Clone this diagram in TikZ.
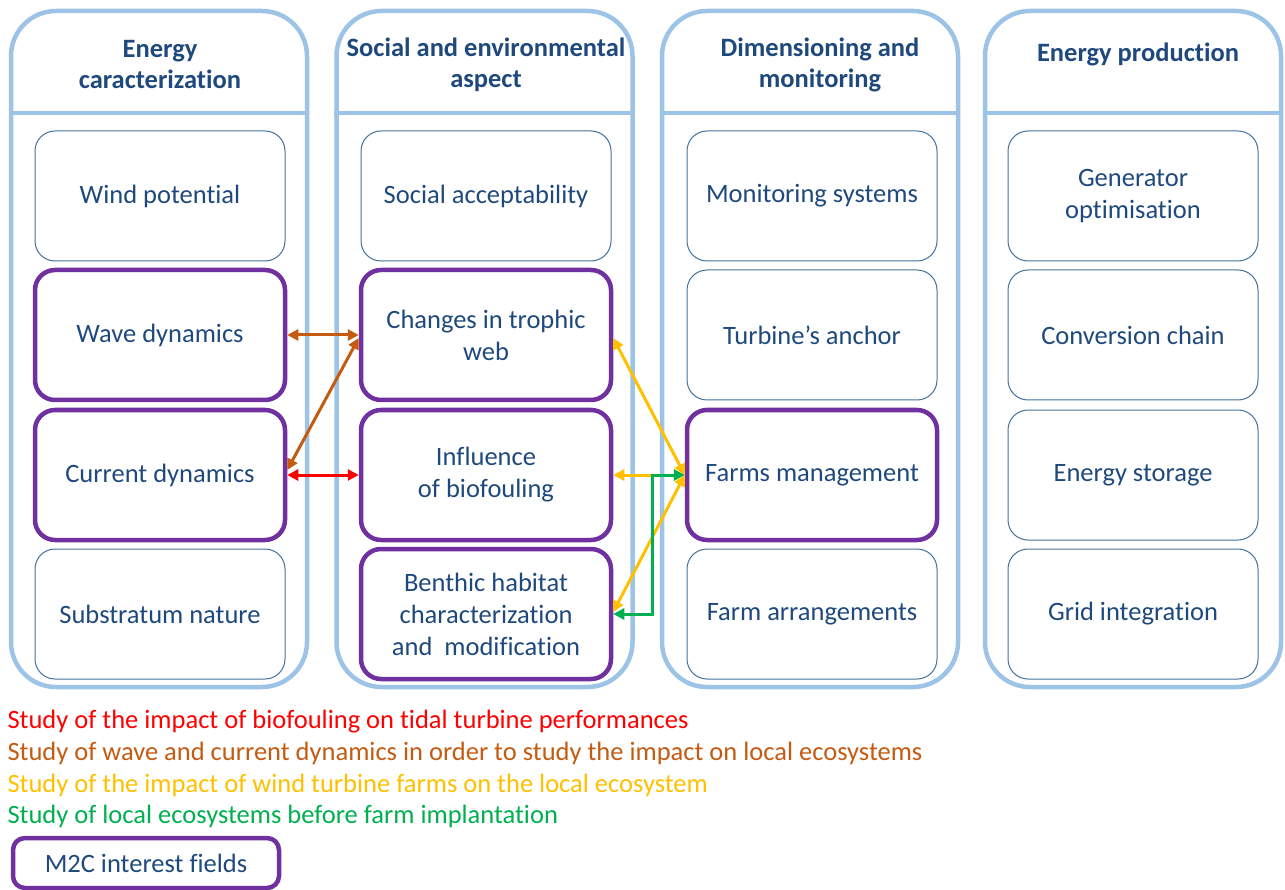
\documentclass[tikz,border=0pt]{standalone}
\usepackage{fontspec}
\setmainfont{Carlito}[Ligatures=NoCommon]
\usetikzlibrary{arrows.meta}
\definecolor{colblue}{RGB}{157,195,230}
\definecolor{boxline}{RGB}{65,113,156}
\definecolor{txtblue}{RGB}{31,73,125}
\definecolor{mpurple}{RGB}{112,48,160}
\definecolor{lred}{RGB}{255,0,0}
\definecolor{lbrown}{RGB}{197,90,17}
\definecolor{lyellow}{RGB}{255,192,0}
\definecolor{lgreen}{RGB}{0,176,80}

\begin{document}
\begin{tikzpicture}[x=1pt,y=-1pt,
  column/.style={draw=colblue, line width=4.5pt, rounded corners=45pt, minimum width=296pt, minimum height=676pt},
  header/.style={text=txtblue, font=\fontsize{26.5}{31}\selectfont\bfseries, align=center},
  field/.style={draw=boxline, line width=1pt, rounded corners=20pt, minimum width=250pt, minimum height=130pt,
    text=txtblue, font=\fontsize{26.5}{32}\selectfont, align=center},
  m2c/.style={field, draw=mpurple, line width=4.5pt},
  link/.style={line width=3pt, {Triangle[length=11pt,width=11pt]}-{Triangle[length=11pt,width=11pt]}},
  legend/.style={anchor=west, font=\fontsize{26.5}{30}\selectfont}]
  \useasboundingbox (0,0) rectangle (1285,890);
  \foreach \i/\x in {1/159,2/484.5,3/810,4/1133} {  %the four columns with their header line
    \node[column] (col\i) at (\x,349) {};
    \draw[colblue, line width=4.5pt] (col\i.west |- 0,113) -- (col\i.east |- 0,113);
  }
  \node[header] (h1) at (160,65) {Energy\\caracterization};
  \node[header] (h2) at (486,65) {Social and environmental\\aspect};
  \node[header] (h3) at (820,65) {Dimensioning and\\monitoring};
  \node[header] (h4) at (1138,54) {Energy production};

  % energy caracterization
  \node[field] (wind) at (160,196) {Wind potential};
  \node[m2c] (wave) at (160,335) {Wave dynamics};
  \node[m2c] (current) at (160,475) {Current dynamics};
  \node[field] (substratum) at (160,614) {Substratum nature};
  % social and environmental aspect
  \node[field] (social) at (486,196) {Social acceptability};
  \node[m2c] (trophic) at (486,335) {Changes in trophic\\web};
  \node[m2c] (biofouling) at (486,475) {Influence\\of biofouling};
  \node[m2c] (benthic) at (486,614) {Benthic habitat\\characterization\\and~ modification};
  % dimensioning and monitoring
  \node[field] (monitoring) at (812,196) {Monitoring systems};
  \node[field] (anchor) at (812,335) {Turbine’s anchor};
  \node[m2c] (farms) at (812,475) {Farms management};
  \node[field] (arrangements) at (812,614) {Farm arrangements};
  % energy production
  \node[field] (generator) at (1133,196) {Generator\\optimisation};
  \node[field] (conversion) at (1133,335) {Conversion chain};
  \node[field] (storage) at (1133,475) {Energy storage};
  \node[field] (grid) at (1133,614) {Grid integration};

  % links between the fields
  \draw[link, lbrown] (wave.east) -- (trophic.west);
  \draw[link, lbrown] ([yshift=5pt]current.east) -- ([yshift=-3pt]trophic.west);
  \draw[link, lred] (current.east) -- (biofouling.west);
  \draw[link, lyellow] ([yshift=-3pt]trophic.east) -- (farms.west);
  \draw[link, lyellow] (biofouling.east) -- (farms.west);
  \draw[link, lyellow] ([yshift=2pt]benthic.east) -- (farms.west);
  \coordinate (bend) at (652,475);
  \draw[link, lgreen] (benthic.east) -| (bend) -- (farms.west);

  % legend
  \node[legend, lred] (l1) at (4,722) {Study of the impact of biofouling on tidal turbine performances};
  \node[legend, lbrown] (l2) at (4,753) {Study of wave and current dynamics in order to study the impact on local ecosystems};
  \node[legend, lyellow] (l3) at (4,785) {Study of the impact of wind turbine farms on the local ecosystem};
  \node[legend, lgreen] (l4) at (4,816) {Study of local ecosystems before farm implantation};
  \node[m2c, rounded corners=12pt, minimum width=266pt, minimum height=50pt] (key) at (146,863) {M2C interest fields};
\end{tikzpicture}
\end{document}
